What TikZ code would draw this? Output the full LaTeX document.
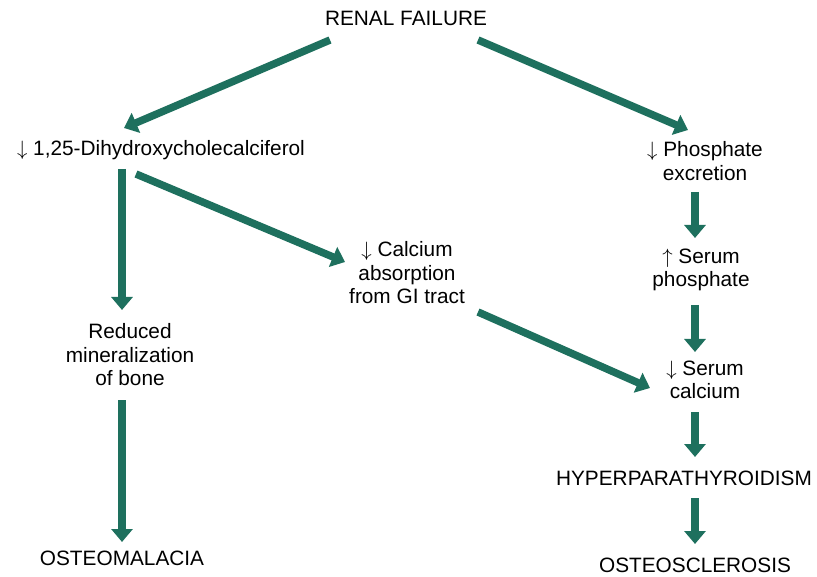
\documentclass[tikz,border=0pt]{standalone}
\usepackage{fontspec}
\setmainfont{Liberation Sans}
\usepackage{tikz}
\usetikzlibrary{arrows.meta}
\definecolor{flowgreen}{RGB}{30,112,94}
\tikzstyle{flow}=[
        draw=flowgreen,
        line width=7.5pt,
        -{Triangle[width=21pt,length=13pt]}
]
\tikzstyle{label}=[
        align=center,
        inner sep=2pt,
        font=\fontsize{20.8}{23.5}\selectfont
]
\newcommand{\dn}{$\downarrow$\ }
\newcommand{\up}{$\uparrow$\ }

\begin{document}
\begin{tikzpicture}[x=1pt,y=-1pt]
                        \useasboundingbox (0,0) rectangle (817,577);

                        \node[label] (renal) at (406,18) {RENAL FAILURE};
                        \node[label] (dihy) at (161,150) {\dn1,25-Dihydroxycholecalciferol};
                        \node[label] (phos) at (705,161) {\dn Phosphate\\excretion};
                        \node[label] (calab) at (407,273) {\dn Calcium\\absorption\\from GI tract};
                        \node[label] (serump) at (701,270) {\up Serum\\phosphate};
                        \node[label] (reduced) at (130,355) {Reduced\\mineralization\\of bone};
                        \node[label] (serumc) at (705,380) {\dn Serum\\calcium};
                        \node[label] (hyper) at (684,478) {HYPERPARATHYROIDISM};
                        \node[label] (malacia) at (122,558) {OSTEOMALACIA};
                        \node[label] (sclerosis) at (695,565) {OSTEOSCLEROSIS};

                        % from the top
                        \draw[flow] ([shift={(-76pt,-22pt)}]renal.center) -- ([shift={(-37pt,22pt)}]dihy.center);
                        \draw[flow] ([shift={(72pt,-22pt)}]renal.center) -- ([shift={(-17pt,31pt)}]phos.center);

                        % left branch
                        \draw[flow] ([shift={(-39pt,-19pt)}]dihy.center) -- ([shift={(-8pt,45pt)}]reduced.center);
                        \draw[flow] ([shift={(-25pt,-24pt)}]dihy.center) -- ([shift={(-62pt,11pt)}]calab.center);
                        \draw[flow] ([shift={(-8pt,-45pt)}]reduced.center) -- ([yshift=16pt]malacia.center);

                        % right branch
                        \draw[flow] ([shift={(-10pt,-31pt)}]phos.center) -- ([shift={(-6pt,32pt)}]serump.center);
                        \draw[flow] ([shift={(-6pt,-35pt)}]serump.center) -- ([shift={(-10pt,28pt)}]serumc.center);
                        \draw[flow] ([shift={(71pt,-39pt)}]calab.center) -- ([shift={(-55pt,-8pt)}]serumc.center);
                        \draw[flow] ([shift={(-10pt,-32pt)}]serumc.center) -- ([shift={(11pt,21pt)}]hyper.center);
                        \draw[flow] ([shift={(11pt,-20pt)}]hyper.center) -- ([yshift=21pt]sclerosis.center);
                    \end{tikzpicture}
\end{document}
